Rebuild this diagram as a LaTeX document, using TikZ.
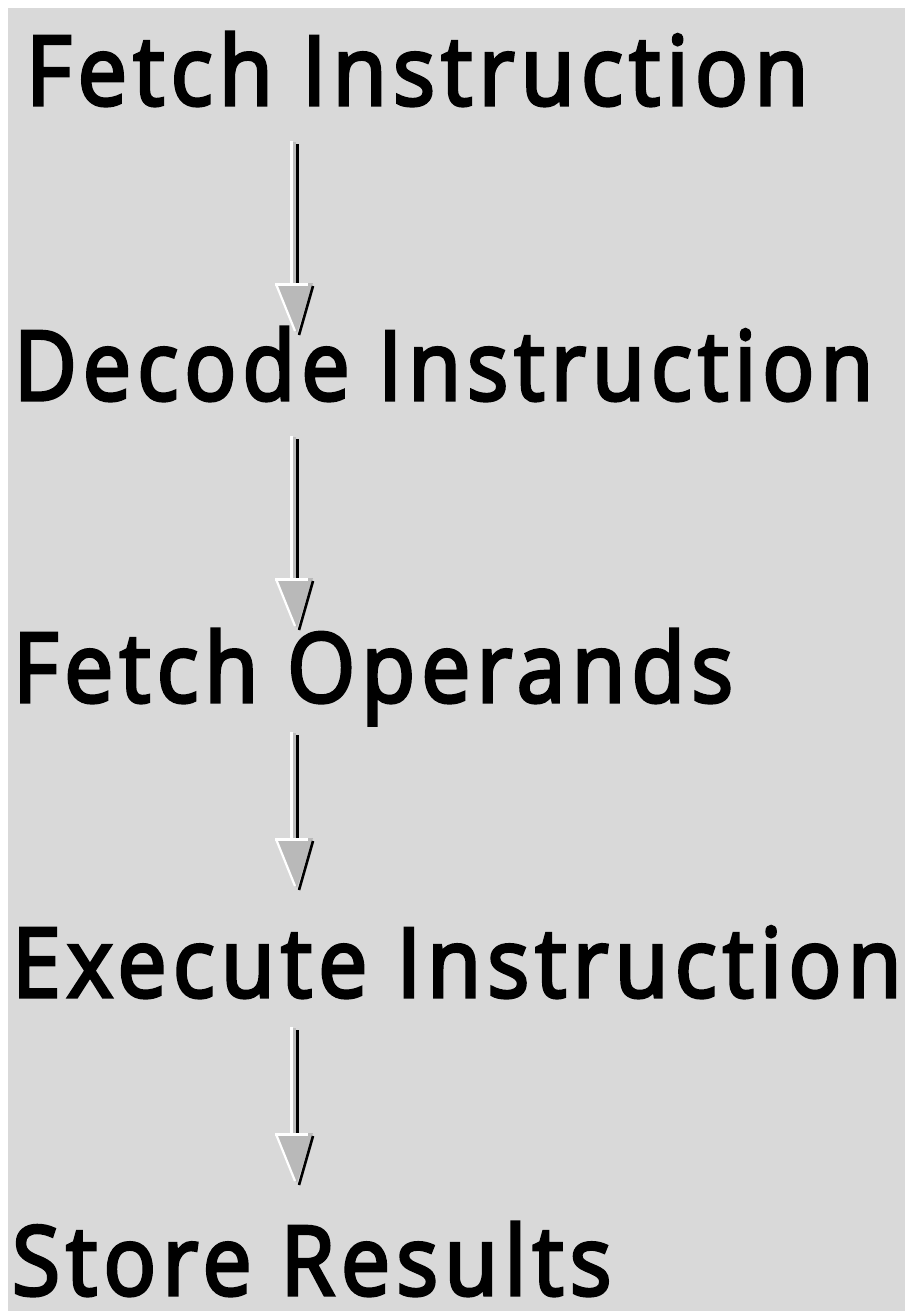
\documentclass[tikz,border=0pt]{standalone}
\usepackage{fontspec}
\setmainfont{Open Sans}
\newfontfamily\stagefont{Open Sans}[FakeBold=3.5, LetterSpace=7]
\usetikzlibrary{calc}
\definecolor{bggray}{RGB}{217,217,217}
\definecolor{headgray}{RGB}{185,185,185}
\definecolor{shaftgray}{RGB}{190,190,190}
\tikzset{
  stage/.style={anchor=base west, inner sep=0pt, outer sep=0pt, text=black, font=\stagefont},
}
\newcommand\stagetext[3]{\resizebox{#1pt}{#2pt}{\vphantom{h}#3\kern-0.7pt}}
% #1 start coordinate (shaft centre), #2 tip coordinate
\newcommand\flowarrow[2]{%
  \fill[white] ($(#1)+(-4,0)$) rectangle ($(#2)+(-4,-50)$);
  \fill[shaftgray] ($(#1)+(-1,1)$) rectangle ($(#2)+(-1,-50)$);
  \fill[black] ($(#1)+(2,3)$) rectangle ($(#2)+(2,-50)$);
  \fill[headgray] ($(#2)+(-22,-50)$) -- ($(#2)+(16,-50)$) -- (#2) -- cycle;
  \draw[white, line width=2.2pt] ($(#2)+(-21,-49)$) -- ($(#2)+(-2,-2)$);
  \fill[white] ($(#2)+(-22,-50)$) rectangle ($(#2)+(11,-47)$);
  \draw[black, line width=2.6pt] ($(#2)+(16,-47)$) -- ($(#2)+(2,2)$);
}
\begin{document}
\begin{tikzpicture}[x=1pt, y=-1pt]
  \useasboundingbox (0,0) rectangle (905,1311);
  \fill[white] (0,0) rectangle (905,1311);
  \fill[bggray] (8,8) rectangle (905,1311);

  \node[stage] (fi) at (26,105)  {\stagetext{776}{73}{Fetch Instruction}};
  \node[stage] (di) at (14,400)  {\stagetext{853}{73}{Decode Instruction}};
  \node[stage] (fo) at (13,702)  {\stagetext{714}{73}{Fetch Operands}};
  \node[stage] (ei) at (12,997)  {\stagetext{883}{73}{Execute Instruction}};
  \node[stage] (sr) at (12,1295) {\stagetext{593}{73}{Store Results}};

  \coordinate (a1s) at (294,141);  \coordinate (a1e) at (297,333);
  \coordinate (a2s) at (294,436);  \coordinate (a2e) at (297,628);
  \coordinate (a3s) at (294,732);  \coordinate (a3e) at (297,888);
  \coordinate (a4s) at (294,1027); \coordinate (a4e) at (297,1183);

  \flowarrow{a1s}{a1e}
  \flowarrow{a2s}{a2e}
  \flowarrow{a3s}{a3e}
  \flowarrow{a4s}{a4e}
\end{tikzpicture}
\end{document}
